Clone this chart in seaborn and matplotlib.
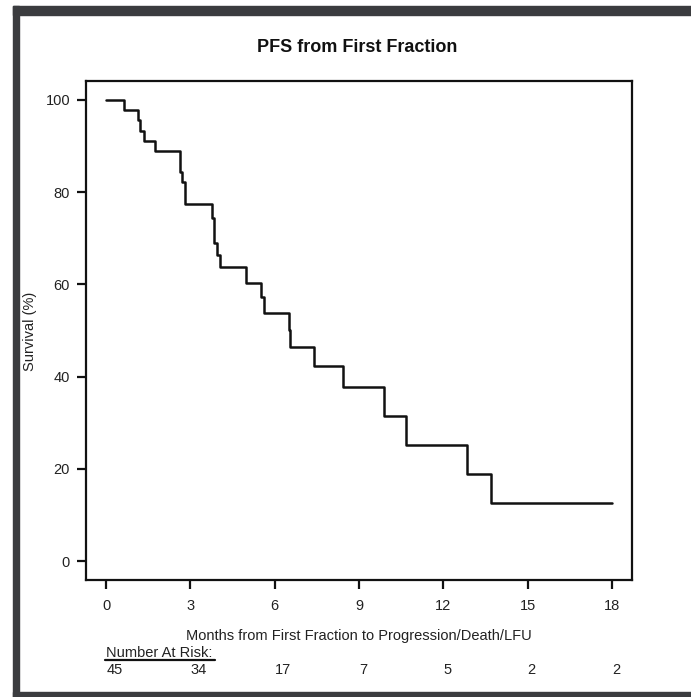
# PFS Kaplan-Meier curve recreated with seaborn

import numpy as np
import pandas as pd
import matplotlib.pyplot as plt
import matplotlib.patches as mpatches
import seaborn as sns

# step curve (months, survival %)
times = [0, 0.62, 1.13, 1.19, 1.36, 1.75, 2.64, 2.69, 2.82, 3.75, 3.83, 3.94,
         4.06, 4.96, 5.52, 5.61, 6.51, 6.55, 7.40, 8.44, 9.89, 10.66, 12.85,
         13.70, 18.0]
survival = [100, 97.8, 95.6, 93.3, 91.1, 88.9, 84.4, 82.2, 77.4, 74.5, 69.0,
            66.4, 63.8, 60.4, 57.2, 53.7, 50.1, 46.5, 42.3, 37.7, 31.4, 25.1,
            18.8, 12.5, 12.5]

# number at risk table
risk_times = [0, 3, 6, 9, 12, 15, 18]
at_risk = [45, 34, 17, 7, 5, 2, 2]
y_ticks = [0, 20, 40, 60, 80, 100]

df = pd.DataFrame({'months': times, 'surv': survival})

sns.set_style('ticks')
plt.rcParams['font.family'] = ['Liberation Sans', 'DejaVu Sans']

W, H = 691, 697
fig = plt.figure(figsize=(W / 100, H / 100), dpi=100)
ax = fig.add_axes([86 / W, 1 - 580 / H, (632 - 86) / W, (580 - 81) / H])

ink = '#111111'
txt = '#222222'
sns.lineplot(data=df, x='months', y='surv', drawstyle='steps-post',
             estimator=None, color=ink, linewidth=1.8, ax=ax)

ax.set_xlim(-0.72, 18.72)
ax.set_ylim(-4.1, 104.1)
ax.set_xticks(risk_times)
ax.set_yticks(y_ticks)
ax.tick_params(axis='both', length=6.5, width=1.6, color=ink,
               labelsize=10.5, labelcolor=txt)
ax.tick_params(axis='x', pad=7)
ax.tick_params(axis='y', pad=5)
for sp in ax.spines.values():
    sp.set_visible(True)
    sp.set_linewidth(1.6)
    sp.set_color(ink)
ax.set_xlabel('')
ax.set_ylabel('')

fig.text(30 / W, 1 - 331 / H, 'Survival (%)', rotation=90, ha='center',
         va='center', fontsize=10.5, color=txt)
fig.text(357 / W, 1 - 47 / H, 'PFS from First Fraction', ha='center',
         va='center', fontsize=13, fontweight='bold', color=ink)
fig.text(359 / W, 1 - 636 / H, 'Months from First Fraction to Progression/Death/LFU',
         ha='center', va='center', fontsize=10.5, color=txt)

# number at risk rows
trans = ax.get_xaxis_transform()
h_ax = 580 - 81
ax.text(0, -(653 - 580) / h_ax, 'Number At Risk:', transform=trans,
        ha='left', va='center', fontsize=10.5, color=txt, clip_on=False)
ax.plot([-0.06, 3.89], [-(659.5 - 580) / h_ax] * 2, transform=trans,
        color=ink, lw=1.6, clip_on=False)
for t, n in zip(risk_times, at_risk):
    ax.text(t, -(670 - 580) / h_ax, str(n), transform=trans, ha='left',
            va='center', fontsize=10.5, color=txt, clip_on=False)

# dark screenshot frame (top, left, bottom)
frame = '#3b3c3f'
fig.patches.append(mpatches.Rectangle((13 / W, 1 - 15 / H), 1, 9 / H,
                                      transform=fig.transFigure, color=frame))
fig.patches.append(mpatches.Rectangle((13 / W, 0), 6 / W, 1 - 6 / H,
                                      transform=fig.transFigure, color=frame))
fig.patches.append(mpatches.Rectangle((13 / W, 0), 1, 5 / H,
                                      transform=fig.transFigure, color=frame))

fig.savefig('out.png', dpi=100)
